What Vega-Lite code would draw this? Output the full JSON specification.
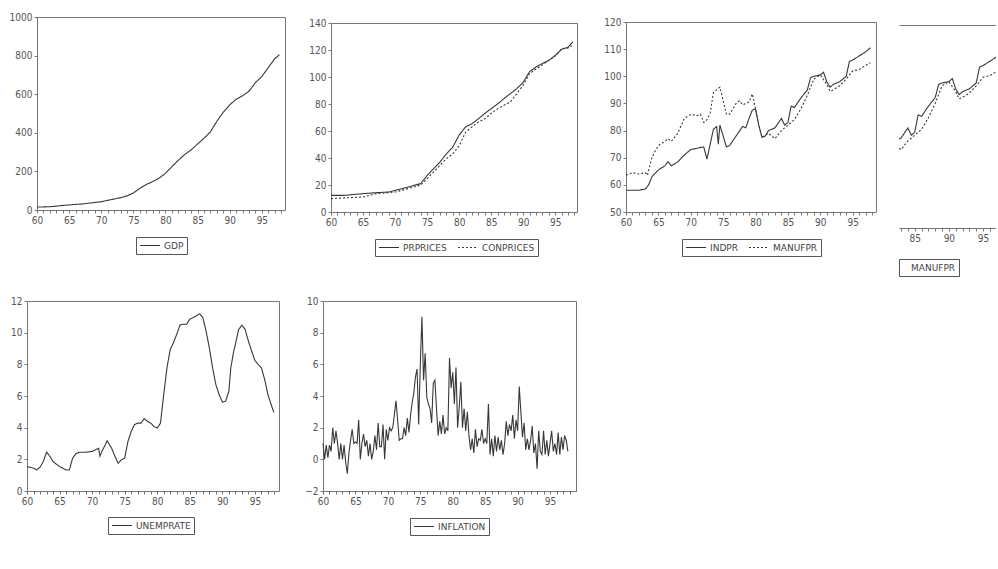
{
 "$schema": "https://vega.github.io/schema/vega-lite/v6.json",
 "background": "white",
 "padding": {"left": 8, "top": 11, "right": 0, "bottom": 0},
 "config": {
  "view": {"stroke": "#777", "strokeWidth": 1},
  "axis": {"grid": false, "domainColor": "#777", "tickColor": "#777", "tickSize": 3, "labelFont": "DejaVu Sans Condensed", "labelFontSize": 10, "labelColor": "#555", "labelPadding": 2, "labelFlush": false, "labelOverlap": false, "format": "d"},
  "legend": {"orient": "bottom", "direction": "horizontal", "strokeColor": "#555", "padding": 3, "offset": 12, "symbolType": "stroke", "symbolStrokeWidth": 1, "symbolSize": 400, "clipHeight": 11, "symbolStrokeColor": "#333", "labelFont": "DejaVu Sans", "labelFontSize": 9, "labelColor": "#444", "columnPadding": 10, "labelOffset": 3, "layout": {"bottom": {"anchor": "middle"}}},
  "line": {"color": "#383838", "strokeWidth": 1.1}
 },
 "datasets": {
  "gdp": [
   {"t":60,"v":15},{"t":61,"v":16},{"t":62,"v":17},{"t":63,"v":20},{"t":64,"v":24},{"t":65,"v":26},{"t":66,"v":29},{"t":67,"v":31},{"t":68,"v":35},{"t":69,"v":39},{"t":70,"v":43},{"t":71,"v":50},{"t":72,"v":57},{"t":73,"v":64},{"t":74,"v":73},{"t":75,"v":88},{"t":76,"v":112},{"t":77,"v":132},{"t":78,"v":147},{"t":79,"v":165},{"t":80,"v":190},{"t":81,"v":225},{"t":82,"v":258},{"t":83,"v":288},{"t":84,"v":312},{"t":85,"v":342},{"t":86,"v":372},{"t":87,"v":405},{"t":88,"v":460},{"t":89,"v":507},{"t":90,"v":545},{"t":91,"v":574},{"t":92,"v":592},{"t":93,"v":615},{"t":94,"v":660},{"t":95,"v":692},{"t":96,"v":738},{"t":97,"v":784},{"t":97.75,"v":805}
  ],
  "prices": [
   {"t":60,"s":"PRPRICES","v":12.3},{"t":62,"s":"PRPRICES","v":12.3},{"t":65,"s":"PRPRICES","v":13.6},{"t":67,"s":"PRPRICES","v":14.3},{"t":69,"s":"PRPRICES","v":14.8},{"t":70,"s":"PRPRICES","v":16},{"t":72,"s":"PRPRICES","v":18.5},{"t":74,"s":"PRPRICES","v":21},{"t":75,"s":"PRPRICES","v":27},{"t":76,"s":"PRPRICES","v":32},{"t":77,"s":"PRPRICES","v":37},{"t":78,"s":"PRPRICES","v":43},{"t":79,"s":"PRPRICES","v":48},{"t":80,"s":"PRPRICES","v":57},{"t":81,"s":"PRPRICES","v":63},{"t":82,"s":"PRPRICES","v":65.4},{"t":83,"s":"PRPRICES","v":69},{"t":84,"s":"PRPRICES","v":73},{"t":85,"s":"PRPRICES","v":76.5},{"t":86,"s":"PRPRICES","v":80},{"t":87,"s":"PRPRICES","v":84},{"t":88,"s":"PRPRICES","v":87.7},{"t":89,"s":"PRPRICES","v":91.4},{"t":90,"s":"PRPRICES","v":96},{"t":91,"s":"PRPRICES","v":104},{"t":92,"s":"PRPRICES","v":107.4},{"t":93,"s":"PRPRICES","v":110},{"t":94,"s":"PRPRICES","v":112.3},{"t":95,"s":"PRPRICES","v":116},{"t":96,"s":"PRPRICES","v":120.5},{"t":97,"s":"PRPRICES","v":122},{"t":97.75,"s":"PRPRICES","v":126},
   {"t":60,"s":"CONPRICES","v":9.9},{"t":62,"s":"CONPRICES","v":10.4},{"t":65,"s":"CONPRICES","v":11.1},{"t":67,"s":"CONPRICES","v":13.6},{"t":69,"s":"CONPRICES","v":14.3},{"t":70,"s":"CONPRICES","v":14.8},{"t":72,"s":"CONPRICES","v":17.3},{"t":74,"s":"CONPRICES","v":20},{"t":75,"s":"CONPRICES","v":24.7},{"t":76,"s":"CONPRICES","v":29.6},{"t":77,"s":"CONPRICES","v":34.6},{"t":78,"s":"CONPRICES","v":39.5},{"t":79,"s":"CONPRICES","v":43},{"t":80,"s":"CONPRICES","v":49},{"t":81,"s":"CONPRICES","v":59},{"t":82,"s":"CONPRICES","v":63},{"t":83,"s":"CONPRICES","v":66.7},{"t":84,"s":"CONPRICES","v":69},{"t":85,"s":"CONPRICES","v":73},{"t":86,"s":"CONPRICES","v":76.5},{"t":87,"s":"CONPRICES","v":79},{"t":88,"s":"CONPRICES","v":81.5},{"t":89,"s":"CONPRICES","v":87.7},{"t":90,"s":"CONPRICES","v":94},{"t":91,"s":"CONPRICES","v":102.5},{"t":92,"s":"CONPRICES","v":106},{"t":93,"s":"CONPRICES","v":109},{"t":94,"s":"CONPRICES","v":112.3},{"t":95,"s":"CONPRICES","v":115.5},{"t":96,"s":"CONPRICES","v":121},{"t":97,"s":"CONPRICES","v":121.5},{"t":97.75,"s":"CONPRICES","v":123.5}
  ],
  "ind": [
   {"t":60,"s":"INDPR","v":58},{"t":61,"s":"INDPR","v":58},{"t":62,"s":"INDPR","v":58},{"t":63,"s":"INDPR","v":58.5},{"t":63.5,"s":"INDPR","v":60},{"t":64,"s":"INDPR","v":63},{"t":65,"s":"INDPR","v":65.5},{"t":66,"s":"INDPR","v":67},{"t":66.5,"s":"INDPR","v":68.5},{"t":67,"s":"INDPR","v":67},{"t":68,"s":"INDPR","v":68.5},{"t":69,"s":"INDPR","v":71},{"t":70,"s":"INDPR","v":73},{"t":71,"s":"INDPR","v":73.5},{"t":72,"s":"INDPR","v":74},{"t":72.5,"s":"INDPR","v":69.5},{"t":73,"s":"INDPR","v":75},{"t":73.5,"s":"INDPR","v":80.5},{"t":74,"s":"INDPR","v":81.5},{"t":74.25,"s":"INDPR","v":75},{"t":74.5,"s":"INDPR","v":82},{"t":75,"s":"INDPR","v":78},{"t":75.5,"s":"INDPR","v":74},{"t":76,"s":"INDPR","v":74.5},{"t":77,"s":"INDPR","v":78},{"t":78,"s":"INDPR","v":81.5},{"t":78.5,"s":"INDPR","v":81},{"t":79,"s":"INDPR","v":84.5},{"t":79.5,"s":"INDPR","v":87.5},{"t":80,"s":"INDPR","v":88},{"t":80.5,"s":"INDPR","v":82},{"t":81,"s":"INDPR","v":77.5},{"t":81.5,"s":"INDPR","v":78},{"t":82,"s":"INDPR","v":80},{"t":83,"s":"INDPR","v":81},{"t":84,"s":"INDPR","v":84.5},{"t":84.5,"s":"INDPR","v":82},{"t":85,"s":"INDPR","v":83},{"t":85.5,"s":"INDPR","v":89},{"t":86,"s":"INDPR","v":88.5},{"t":87,"s":"INDPR","v":92},{"t":88,"s":"INDPR","v":95},{"t":88.5,"s":"INDPR","v":99.5},{"t":89,"s":"INDPR","v":100},{"t":90,"s":"INDPR","v":100.5},{"t":90.5,"s":"INDPR","v":101.5},{"t":91,"s":"INDPR","v":98},{"t":91.5,"s":"INDPR","v":96},{"t":92,"s":"INDPR","v":97},{"t":93,"s":"INDPR","v":98},{"t":94,"s":"INDPR","v":100},{"t":94.5,"s":"INDPR","v":105.5},{"t":95,"s":"INDPR","v":106},{"t":96,"s":"INDPR","v":107.5},{"t":97,"s":"INDPR","v":109},{"t":97.75,"s":"INDPR","v":110.5},
   {"t":60,"s":"MANUFPR","v":63.5},{"t":61,"s":"MANUFPR","v":64.5},{"t":62,"s":"MANUFPR","v":64},{"t":63,"s":"MANUFPR","v":64.5},{"t":63.3,"s":"MANUFPR","v":63.5},{"t":64,"s":"MANUFPR","v":70},{"t":64.5,"s":"MANUFPR","v":72.5},{"t":65,"s":"MANUFPR","v":74.5},{"t":66,"s":"MANUFPR","v":76},{"t":66.5,"s":"MANUFPR","v":77},{"t":67,"s":"MANUFPR","v":76},{"t":68,"s":"MANUFPR","v":79},{"t":69,"s":"MANUFPR","v":84.5},{"t":70,"s":"MANUFPR","v":86},{"t":71,"s":"MANUFPR","v":85.5},{"t":71.5,"s":"MANUFPR","v":86},{"t":72,"s":"MANUFPR","v":83},{"t":72.5,"s":"MANUFPR","v":84},{"t":73,"s":"MANUFPR","v":86.5},{"t":73.5,"s":"MANUFPR","v":94},{"t":74,"s":"MANUFPR","v":95},{"t":74.5,"s":"MANUFPR","v":96},{"t":75,"s":"MANUFPR","v":91},{"t":75.5,"s":"MANUFPR","v":86},{"t":76,"s":"MANUFPR","v":86},{"t":77,"s":"MANUFPR","v":90},{"t":77.5,"s":"MANUFPR","v":91},{"t":78,"s":"MANUFPR","v":89.5},{"t":79,"s":"MANUFPR","v":90.5},{"t":79.5,"s":"MANUFPR","v":93.5},{"t":80,"s":"MANUFPR","v":88},{"t":80.5,"s":"MANUFPR","v":82},{"t":81,"s":"MANUFPR","v":77.5},{"t":82,"s":"MANUFPR","v":79},{"t":83,"s":"MANUFPR","v":77},{"t":84,"s":"MANUFPR","v":80},{"t":85,"s":"MANUFPR","v":82},{"t":86,"s":"MANUFPR","v":84},{"t":87,"s":"MANUFPR","v":88},{"t":88,"s":"MANUFPR","v":93},{"t":89,"s":"MANUFPR","v":99},{"t":90,"s":"MANUFPR","v":100.5},{"t":91,"s":"MANUFPR","v":97},{"t":91.5,"s":"MANUFPR","v":94.5},{"t":92,"s":"MANUFPR","v":95},{"t":93,"s":"MANUFPR","v":96.5},{"t":94,"s":"MANUFPR","v":99},{"t":95,"s":"MANUFPR","v":102},{"t":96,"s":"MANUFPR","v":102.5},{"t":97,"s":"MANUFPR","v":104},{"t":97.75,"s":"MANUFPR","v":105}
  ],
  "unemp": [
   {"t":60,"v":1.54},{"t":61,"v":1.44},{"t":61.5,"v":1.33},{"t":62,"v":1.5},{"t":62.5,"v":1.86},{"t":63,"v":2.45},{"t":63.5,"v":2.2},{"t":64,"v":1.86},{"t":65,"v":1.54},{"t":65.5,"v":1.44},{"t":66,"v":1.33},{"t":66.5,"v":1.33},{"t":67,"v":2.07},{"t":67.5,"v":2.35},{"t":68,"v":2.45},{"t":69,"v":2.45},{"t":70,"v":2.5},{"t":70.5,"v":2.6},{"t":71,"v":2.7},{"t":71.2,"v":2.2},{"t":71.5,"v":2.5},{"t":72,"v":2.9},{"t":72.3,"v":3.17},{"t":73,"v":2.7},{"t":73.5,"v":2.2},{"t":74,"v":1.75},{"t":74.5,"v":1.97},{"t":75,"v":2.07},{"t":75.5,"v":3.13},{"t":76,"v":3.76},{"t":76.5,"v":4.19},{"t":77,"v":4.29},{"t":77.5,"v":4.29},{"t":78,"v":4.57},{"t":78.5,"v":4.4},{"t":79,"v":4.29},{"t":79.5,"v":4.08},{"t":80,"v":3.97},{"t":80.5,"v":4.29},{"t":81,"v":6.1},{"t":81.5,"v":7.8},{"t":82,"v":8.94},{"t":82.5,"v":9.37},{"t":83,"v":9.9},{"t":83.5,"v":10.49},{"t":84,"v":10.53},{"t":84.5,"v":10.53},{"t":85,"v":10.85},{"t":85.5,"v":10.95},{"t":86,"v":11.06},{"t":86.5,"v":11.2},{"t":87,"v":10.95},{"t":87.5,"v":10.1},{"t":88,"v":9.05},{"t":88.5,"v":7.78},{"t":89,"v":6.72},{"t":89.5,"v":6.09},{"t":90,"v":5.62},{"t":90.5,"v":5.67},{"t":91,"v":6.3},{"t":91.3,"v":7.78},{"t":91.7,"v":8.73},{"t":92,"v":9.26},{"t":92.5,"v":10.2},{"t":93,"v":10.47},{"t":93.5,"v":10.2},{"t":94,"v":9.47},{"t":94.5,"v":8.84},{"t":95,"v":8.24},{"t":95.5,"v":7.99},{"t":96,"v":7.78},{"t":96.5,"v":7.04},{"t":97,"v":6.09},{"t":97.5,"v":5.45},{"t":97.9,"v":4.97}
  ],
  "infl": [
   {"t":60,"v":1.0},{"t":60.25,"v":0.0},{"t":60.5,"v":0.9},{"t":60.75,"v":0.1},
   {"t":61,"v":0.9},{"t":61.25,"v":0.5},{"t":61.5,"v":2.0},{"t":61.75,"v":1.0},
   {"t":62,"v":1.8},{"t":62.25,"v":1.0},{"t":62.5,"v":0.0},{"t":62.75,"v":1.0},
   {"t":63,"v":0.0},{"t":63.25,"v":0.9},{"t":63.5,"v":-0.2},{"t":63.75,"v":-0.9},
   {"t":64,"v":0.4},{"t":64.25,"v":1.2},{"t":64.5,"v":1.9},{"t":64.75,"v":1.0},
   {"t":65,"v":1.1},{"t":65.25,"v":1.0},{"t":65.5,"v":2.5},{"t":65.75,"v":0.0},
   {"t":66,"v":1.0},{"t":66.25,"v":1.6},{"t":66.5,"v":0.8},{"t":66.75,"v":1.2},
   {"t":67,"v":0.2},{"t":67.25,"v":1.0},{"t":67.5,"v":0.0},{"t":67.75,"v":0.5},
   {"t":68,"v":1.5},{"t":68.25,"v":0.6},{"t":68.5,"v":2.3},{"t":68.75,"v":0.8},
   {"t":69,"v":0.8},{"t":69.25,"v":2.2},{"t":69.5,"v":0.0},{"t":69.75,"v":1.9},
   {"t":70,"v":1.2},{"t":70.25,"v":2.0},{"t":70.5,"v":1.8},{"t":70.75,"v":2.0},
   {"t":71,"v":2.8},{"t":71.25,"v":3.7},{"t":71.5,"v":2.5},{"t":71.75,"v":1.2},
   {"t":72,"v":1.3},{"t":72.25,"v":1.3},{"t":72.5,"v":2.0},{"t":72.75,"v":1.5},
   {"t":73,"v":2.6},{"t":73.25,"v":1.7},{"t":73.5,"v":2.8},{"t":73.75,"v":3.6},
   {"t":74,"v":4.2},{"t":74.25,"v":5.2},{"t":74.5,"v":5.7},{"t":74.75,"v":2.2},
   {"t":75,"v":6.0},{"t":75.25,"v":9.0},{"t":75.5,"v":5.0},{"t":75.75,"v":6.7},
   {"t":76,"v":3.9},{"t":76.25,"v":3.5},{"t":76.5,"v":3.2},{"t":76.75,"v":2.3},
   {"t":77,"v":4.8},{"t":77.25,"v":5.0},{"t":77.5,"v":3.2},{"t":77.75,"v":1.5},
   {"t":78,"v":2.4},{"t":78.25,"v":1.6},{"t":78.5,"v":2.8},{"t":78.75,"v":1.6},
   {"t":79,"v":2.0},{"t":79.25,"v":1.8},{"t":79.5,"v":6.4},{"t":79.75,"v":4.5},
   {"t":80,"v":5.5},{"t":80.25,"v":3.5},{"t":80.5,"v":5.8},{"t":80.75,"v":2.0},
   {"t":81,"v":3.3},{"t":81.25,"v":4.9},{"t":81.5,"v":2.0},{"t":81.75,"v":3.2},
   {"t":82,"v":1.8},{"t":82.25,"v":3.0},{"t":82.5,"v":1.5},{"t":82.75,"v":0.6},
   {"t":83,"v":1.3},{"t":83.25,"v":0.4},{"t":83.5,"v":1.9},{"t":83.75,"v":0.8},
   {"t":84,"v":1.3},{"t":84.25,"v":1.2},{"t":84.5,"v":1.9},{"t":84.75,"v":1.0},
   {"t":85,"v":1.3},{"t":85.25,"v":1.0},{"t":85.5,"v":3.5},{"t":85.75,"v":0.3},
   {"t":86,"v":1.3},{"t":86.25,"v":0.2},{"t":86.5,"v":1.5},{"t":86.75,"v":0.5},
   {"t":87,"v":1.4},{"t":87.25,"v":0.6},{"t":87.5,"v":1.2},{"t":87.75,"v":0.3},
   {"t":88,"v":1.0},{"t":88.25,"v":2.4},{"t":88.5,"v":1.5},{"t":88.75,"v":2.2},
   {"t":89,"v":1.8},{"t":89.25,"v":2.8},{"t":89.5,"v":1.3},{"t":89.75,"v":2.5},
   {"t":90,"v":1.8},{"t":90.25,"v":4.6},{"t":90.5,"v":3.0},{"t":90.75,"v":1.4},
   {"t":91,"v":2.3},{"t":91.25,"v":0.6},{"t":91.5,"v":1.3},{"t":91.75,"v":0.6},
   {"t":92,"v":1.2},{"t":92.25,"v":2.1},{"t":92.5,"v":0.4},{"t":92.75,"v":1.0},
   {"t":93,"v":-0.6},{"t":93.25,"v":1.8},{"t":93.5,"v":0.5},{"t":93.75,"v":0.3},
   {"t":94,"v":1.8},{"t":94.25,"v":0.3},{"t":94.5,"v":1.2},{"t":94.75,"v":0.2},
   {"t":95,"v":1.0},{"t":95.25,"v":1.8},{"t":95.5,"v":0.5},{"t":95.75,"v":1.0},
   {"t":96,"v":0.3},{"t":96.25,"v":1.7},{"t":96.5,"v":0.3},{"t":96.75,"v":1.4},
   {"t":97,"v":0.6},{"t":97.25,"v":1.5},{"t":97.5,"v":1.2},{"t":97.75,"v":0.5}
  ]
 },
 "vconcat": [
  {
   "hconcat": [
    {
     "hconcat": [
      {
       "width": 248, "height": 193,
       "data": {"name": "gdp"},
       "mark": {"type": "line"},
       "encoding": {
        "x": {"field": "t", "type": "quantitative", "title": null, "scale": {"domain": [60, 98.6], "nice": false, "zero": false},
              "axis": {"values": [60,61,62,63,64,65,66,67,68,69,70,71,72,73,74,75,76,77,78,79,80,81,82,83,84,85,86,87,88,89,90,91,92,93,94,95,96,97,98], "labelExpr": "datum.value % 5 === 0 ? datum.label : ''"}},
        "y": {"field": "v", "type": "quantitative", "title": null, "scale": {"domain": [0, 1000], "nice": false}, "axis": {"values": [0,200,400,600,800,1000]}},
        "strokeDash": {"datum": "GDP", "type": "nominal", "scale": {"domain": ["GDP"], "range": [[1,0]]}, "legend": {"title": null}}
       }
      },
      {
       "width": 250, "height": 195,
       "view": {"stroke": null},
       "data": {"name": "prices"},
       "layer": [
        {
         "mark": {"type": "line"},
         "encoding": {
          "x": {"field": "t", "type": "quantitative", "title": null, "scale": {"domain": [60, 98.4], "range": [0, 246], "nice": false, "zero": false},
                "axis": {"values": [60,61,62,63,64,65,66,67,68,69,70,71,72,73,74,75,76,77,78,79,80,81,82,83,84,85,86,87,88,89,90,91,92,93,94,95,96,97,98], "labelExpr": "datum.value % 5 === 0 ? datum.label : ''"}},
          "y": {"field": "v", "type": "quantitative", "title": null, "scale": {"domain": [0, 140], "range": [195, 6], "nice": false}, "axis": {"values": [0,20,40,60,80,100,120,140]}},
          "strokeDash": {"field": "s", "type": "nominal", "sort": null, "scale": {"domain": ["PRPRICES", "CONPRICES"], "range": [[1,0],[2,2]]}, "legend": {"title": null}}
         }
        },
        {
         "mark": {"type": "line", "opacity": 0},
         "encoding": {
          "x": {"field": "t", "type": "quantitative", "title": null, "axis": {"orient": "top", "labels": false, "ticks": false, "offset": -6}},
          "y": {"field": "v", "type": "quantitative", "title": null, "axis": {"orient": "right", "labels": false, "ticks": false, "offset": -4}}
         }
        }
       ],
       "resolve": {"axis": {"x": "independent", "y": "independent"}}
      },
      {
       "width": 250, "height": 195,
       "view": {"stroke": null},
       "data": {"name": "ind"},
       "layer": [
        {
         "mark": {"type": "line"},
         "encoding": {
          "x": {"field": "t", "type": "quantitative", "title": null, "scale": {"domain": [60, 98.6], "nice": false, "zero": false},
                "axis": {"values": [60,61,62,63,64,65,66,67,68,69,70,71,72,73,74,75,76,77,78,79,80,81,82,83,84,85,86,87,88,89,90,91,92,93,94,95,96,97,98], "labelExpr": "datum.value % 5 === 0 ? datum.label : ''"}},
          "y": {"field": "v", "type": "quantitative", "title": null, "scale": {"domain": [50, 120], "range": [195, 5], "nice": false, "zero": false}, "axis": {"values": [50,60,70,80,90,100,110,120]}},
          "strokeDash": {"field": "s", "type": "nominal", "sort": null, "scale": {"domain": ["INDPR", "MANUFPR"], "range": [[1,0],[2,2]]}, "legend": {"title": null}}
         }
        },
        {
         "mark": {"type": "line", "opacity": 0},
         "encoding": {
          "x": {"field": "t", "type": "quantitative", "title": null, "axis": {"orient": "top", "labels": false, "ticks": false, "offset": -5}},
          "y": {"field": "v", "type": "quantitative", "title": null, "axis": {"orient": "right", "labels": false, "ticks": false}}
         }
        }
       ],
       "resolve": {"axis": {"x": "independent", "y": "independent"}}
      }
     ],
     "spacing": 22,
     "resolve": {"scale": {"strokeDash": "independent"}, "legend": {"strokeDash": "independent"}}
    },
    {
     "width": 97, "height": 211,
     "view": {"stroke": null},
     "data": {"name": "ind"},
     "layer": [
      {
       "mark": {"type": "line", "clip": true},
       "encoding": {
        "x": {"field": "t", "type": "quantitative", "title": null, "scale": {"domain": [82.7, 96.9], "nice": false, "zero": false},
              "axis": {"values": [83,84,85,86,87,88,89,90,91,92,93,94,95,96], "labelExpr": "datum.value % 5 === 0 ? datum.label : ''"}},
        "y": {"field": "v", "type": "quantitative", "title": null, "scale": {"domain": [50, 120], "range": [211, 8], "nice": false, "zero": false}, "axis": null},
        "strokeDash": {"field": "s", "type": "nominal", "sort": null, "scale": {"domain": ["INDPR", "MANUFPR"], "range": [[1,0],[2,2]]},
                       "legend": {"title": null, "values": ["MANUFPR"], "orient": "none", "legendX": 0, "legendY": 242, "symbolOpacity": 0, "symbolSize": 1, "labelOffset": 0}}
       }
      },
      {
       "mark": {"type": "line", "clip": true, "opacity": 0},
       "encoding": {
        "x": {"field": "t", "type": "quantitative", "title": null, "axis": {"orient": "top", "ticks": false, "labels": false, "domain": true, "offset": -8}},
        "y": {"field": "v", "type": "quantitative", "title": null, "axis": null}
       }
      }
     ],
     "resolve": {"axis": {"x": "independent"}}
    }
   ],
   "spacing": 22,
   "resolve": {"scale": {"strokeDash": "independent"}, "legend": {"strokeDash": "independent"}}
  },
  {
   "hconcat": [
    {
     "width": 242, "height": 190,
     "view": {"stroke": null},
     "data": {"name": "unemp"},
     "layer": [
      {
       "mark": {"type": "line"},
       "encoding": {
        "x": {"field": "t", "type": "quantitative", "title": null, "scale": {"domain": [60, 98.7], "range": [-10, 242], "nice": false, "zero": false},
              "axis": {"values": [60,61,62,63,64,65,66,67,68,69,70,71,72,73,74,75,76,77,78,79,80,81,82,83,84,85,86,87,88,89,90,91,92,93,94,95,96,97,98], "labelExpr": "datum.value % 5 === 0 ? datum.label : ''"}},
        "y": {"field": "v", "type": "quantitative", "title": null, "scale": {"domain": [0, 12], "nice": false}, "axis": {"values": [0,2,4,6,8,10,12], "offset": 10}},
        "strokeDash": {"datum": "UNEMPRATE", "type": "nominal", "scale": {"domain": ["UNEMPRATE"], "range": [[1,0]]}, "legend": {"title": null, "orient": "none", "legendX": 71, "legendY": 216}}
       }
      },
      {
       "mark": {"type": "line", "opacity": 0},
       "encoding": {
        "x": {"field": "t", "type": "quantitative", "title": null, "axis": {"orient": "top", "labels": false, "ticks": false}},
        "y": {"field": "v", "type": "quantitative", "title": null, "axis": {"orient": "right", "labels": false, "ticks": false}}
       }
      }
     ],
     "resolve": {"axis": {"x": "independent", "y": "independent"}}
    },
    {
     "width": 253, "height": 190,
     "data": {"name": "infl"},
     "mark": {"type": "line"},
     "encoding": {
      "x": {"field": "t", "type": "quantitative", "title": null, "scale": {"domain": [60, 99.0], "nice": false, "zero": false},
            "axis": {"values": [60,61,62,63,64,65,66,67,68,69,70,71,72,73,74,75,76,77,78,79,80,81,82,83,84,85,86,87,88,89,90,91,92,93,94,95,96,97,98], "labelExpr": "datum.value % 5 === 0 ? datum.label : ''"}},
      "y": {"field": "v", "type": "quantitative", "title": null, "scale": {"domain": [-2, 10], "nice": false, "zero": false}, "axis": {"values": [-2,0,2,4,6,8,10]}},
      "strokeDash": {"datum": "INFLATION", "type": "nominal", "scale": {"domain": ["INFLATION"], "range": [[1,0]]}, "legend": {"title": null}}
     }
    }
   ],
   "spacing": 15,
   "resolve": {"scale": {"strokeDash": "independent"}, "legend": {"strokeDash": "independent"}}
  }
 ],
 "spacing": 18,
 "resolve": {"scale": {"strokeDash": "independent"}, "legend": {"strokeDash": "independent"}}
}
